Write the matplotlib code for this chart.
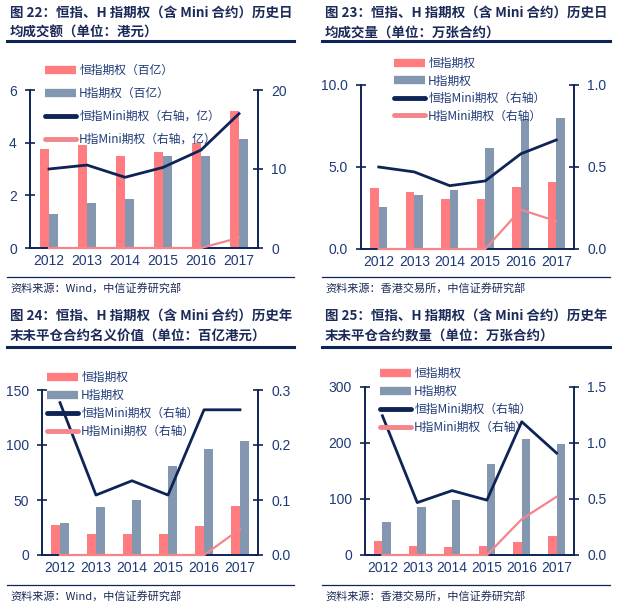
import matplotlib
matplotlib.use("Agg")
import matplotlib.pyplot as plt
from matplotlib.lines import Line2D
import numpy as np

plt.rcParams['font.family'] = ['Noto Sans CJK SC', 'DejaVu Sans']

# Data
years = ['2012', '2013', '2014', '2015', '2016', '2017']

# 图22 历史日均成交额
hsi_turnover = [3.75, 3.9, 3.5, 3.65, 4.0, 5.2]
hhi_turnover = [1.3, 1.7, 1.85, 3.5, 3.5, 4.15]
mini_hsi_turnover = [10.0, 10.5, 8.95, 10.2, 12.4, 17.0]
mini_hhi_turnover = [0, 0, 0, 0, 0, 1.3]

# 图23 历史日均成交量
hsi_volume = [3.74, 3.5, 3.03, 3.03, 3.76, 4.07]
hhi_volume = [2.54, 3.27, 3.62, 6.16, 7.93, 8.0]
mini_hsi_volume = [0.50, 0.47, 0.386, 0.415, 0.58, 0.665]
mini_hhi_volume = [0, 0, 0, 0, 0.24, 0.17]

# 图24 年末未平仓合约名义价值
hsi_oi_value = [27, 19, 19, 19, 26.7, 44.8]
hhi_oi_value = [28.8, 43.4, 50, 81, 96, 104]
mini_hsi_oi_value = [0.277, 0.109, 0.135, 0.109, 0.264, 0.264]
mini_hhi_oi_value = [0, 0, 0, 0, 0, 0.047]

# 图25 年末未平仓合约数量
hsi_oi_count = [25.6, 16, 15, 16, 23.8, 33.4]
hhi_oi_count = [58.5, 85.3, 98.4, 162, 207.5, 198.6]
mini_hsi_oi_count = [1.243, 0.468, 0.575, 0.49, 1.19, 0.91]
mini_hhi_oi_count = [0, 0, 0, 0, 0.32, 0.52]

titles = [
    ["图 22：恒指、H 指期权（含 Mini 合约）历史日", "均成交额（单位：港元）"],
    ["图 23：恒指、H 指期权（含 Mini 合约）历史日", "均成交量（单位：万张合约）"],
    ["图 24：恒指、H 指期权（含 Mini 合约）历史年", "末未平仓合约名义价值（单位：百亿港元）"],
    ["图 25：恒指、H 指期权（含 Mini 合约）历史年", "末未平仓合约数量（单位：万张合约）"],
]
sources = ["资料来源：Wind，中信证券研究部", "资料来源：香港交易所，中信证券研究部",
           "资料来源：Wind，中信证券研究部", "资料来源：香港交易所，中信证券研究部"]
legend_labels = [
    ["恒指期权（百亿）", "H指期权（百亿）", "恒指Mini期权（右轴，亿）", "H指Mini期权（右轴，亿）"],
    ["恒指期权", "H指期权", "恒指Mini期权（右轴）", "H指Mini期权（右轴）"],
    ["恒指期权", "H指期权", "恒指Mini期权（右轴）", "H指Mini期权（右轴）"],
    ["恒指期权", "H指期权", "恒指Mini期权（右轴）", "H指Mini期权（右轴）"],
]
left_ticks = [[0, 2, 4, 6], [0, 5, 10], [0, 50, 100, 150], [0, 100, 200, 300]]
left_fmt = ['{:.0f}', '{:.1f}', '{:.0f}', '{:.0f}']
right_ticks = [[0, 10, 20], [0, 0.5, 1.0], [0, 0.1, 0.2, 0.3], [0, 0.5, 1.0, 1.5]]
right_fmt = ['{:.0f}', '{:.1f}', '{:.1f}', '{:.1f}']

bars_a = [hsi_turnover, hsi_volume, hsi_oi_value, hsi_oi_count]
bars_b = [hhi_turnover, hhi_volume, hhi_oi_value, hhi_oi_count]
lines_a = [mini_hsi_turnover, mini_hsi_volume, mini_hsi_oi_value, mini_hsi_oi_count]
lines_b = [mini_hhi_turnover, mini_hhi_volume, mini_hhi_oi_value, mini_hhi_oi_count]

# colours
c_red = '#FF7C80'
c_grey = '#8497B0'
c_navy = '#0E2456'
c_pink = '#F4858A'
c_text = '#1B2A58'
c_tick = '#1F3A78'

W, H = 617, 607
fig = plt.figure(figsize=(W / 100, H / 100), dpi=100)


def ax_px(l, t, r, b):
    return fig.add_axes([l / W, 1 - b / H, (r - l) / W, (b - t) / H])


def hline_px(x0, x1, y, lw):
    fig.add_artist(Line2D([x0 / W, x1 / W], [1 - y / H, 1 - y / H],
                          transform=fig.transFigure, color=c_navy, lw=lw))


# geometry in pixels: plot box, panel x offset, title y, underline y, source y, legend
geo = [
    dict(box=(30, 90, 258, 248), x0=7, x1=294, t1=13, t2=33, ul=41, sep=277, src=288,
         leg=(45, 64), lsp=0.85),
    dict(box=(361, 85, 574, 249), x0=322, x1=610, t1=13, t2=33, ul=41, sep=277, src=288,
         leg=(394, 57), lsp=0.38),
    dict(box=(42, 390, 258, 555), x0=7, x1=294, t1=316, t2=337, ul=347, sep=585, src=596,
         leg=(47, 371), lsp=0.42),
    dict(box=(365, 387, 574, 555), x0=322, x1=610, t1=316, t2=337, ul=347, sep=585, src=596,
         leg=(380, 367), lsp=0.42),
]

x = np.arange(len(years))
bw = 0.24

for i, g in enumerate(geo):
    ax = ax_px(*g['box'])
    ax2 = ax.twinx()
    ax.bar(x - bw / 2, bars_a[i], bw, color=c_red, zorder=2)
    ax.bar(x + bw / 2, bars_b[i], bw, color=c_grey, zorder=2)
    ax2.plot(x, lines_a[i], color=c_navy, lw=2, zorder=3)
    ax2.plot(x, lines_b[i], color=c_pink, lw=1.6, zorder=3, clip_on=False)

    ax.set_xlim(-0.5, 5.5)
    ax.set_ylim(left_ticks[i][0], left_ticks[i][-1])
    ax2.set_ylim(right_ticks[i][0], right_ticks[i][-1])
    ax.set_xticks(x)
    ax.set_xticklabels(years)
    ax.set_yticks(left_ticks[i])
    ax.set_yticklabels([left_fmt[i].format(v) for v in left_ticks[i]])
    ax2.set_yticks(right_ticks[i])
    ax2.set_yticklabels([right_fmt[i].format(v) for v in right_ticks[i]])

    for a in (ax, ax2):
        a.spines['top'].set_visible(False)
        for s in ('left', 'right', 'bottom'):
            a.spines[s].set_color(c_navy)
            a.spines[s].set_linewidth(1.2)
        a.tick_params(axis='y', direction='inout', length=7, width=1.2, color=c_navy,
                      labelsize=10, labelcolor=c_tick, pad=6)
        a.tick_params(axis='x', length=0, labelsize=10, labelcolor=c_tick, pad=4)
        for lab in a.get_xticklabels() + a.get_yticklabels():
            lab.set_family(['Liberation Sans', 'DejaVu Sans'])
    ax2.patch.set_visible(False)

    # titles, rules and source
    fig.text((g['x0'] + 3) / W, 1 - g['t1'] / H, titles[i][0], fontsize=9.7, fontweight='bold',
             color=c_text, va='center', ha='left')
    fig.text((g['x0'] + 3) / W, 1 - g['t2'] / H, titles[i][1], fontsize=9.7, fontweight='bold',
             color=c_text, va='center', ha='left')
    hline_px(g['x0'], g['x1'], g['ul'], 2.2)
    hline_px(g['x0'], g['x1'], g['sep'], 0.9)
    fig.text((g['x0'] + 3) / W, 1 - g['src'] / H, sources[i], fontsize=8,
             color=c_text, va='center', ha='left')

    handles = [Line2D([], [], color=c_red, lw=6, solid_capstyle='butt'),
               Line2D([], [], color=c_grey, lw=6, solid_capstyle='butt'),
               Line2D([], [], color=c_navy, lw=3.5, solid_capstyle='round'),
               Line2D([], [], color=c_pink, lw=3.5, solid_capstyle='round')]
    lx, ly = g['leg']
    leg = fig.legend(handles, legend_labels[i], loc='upper left',
                     bbox_to_anchor=(lx / W, 1 - ly / H), frameon=False,
                     fontsize=8.5, handlelength=2.6, handletextpad=0.3,
                     labelspacing=g['lsp'], borderpad=0, borderaxespad=0)
    for t in leg.get_texts():
        t.set_color(c_tick)

fig.savefig('out.png', dpi=100)
